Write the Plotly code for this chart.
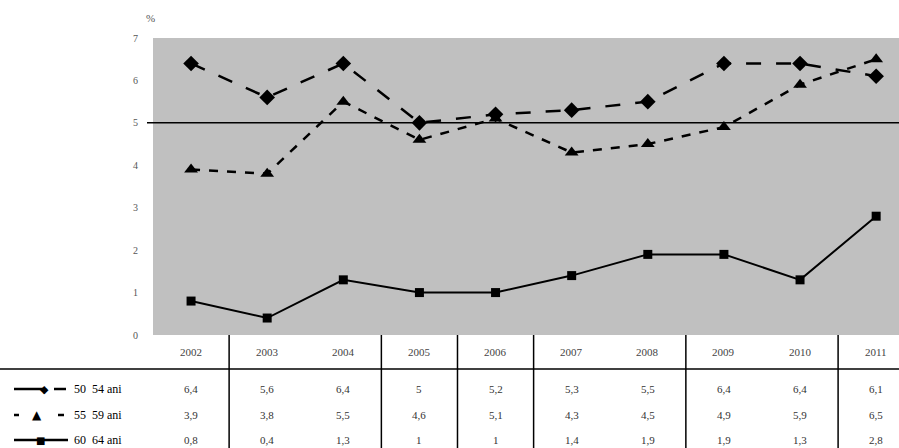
import plotly.graph_objects as go

years = ["2002", "2003", "2004", "2005", "2006", "2007", "2008", "2009", "2010", "2011"]
series_names = ["50  54 ani", "55  59 ani", "60  64 ani"]
s50_54 = [6.4, 5.6, 6.4, 5.0, 5.2, 5.3, 5.5, 6.4, 6.4, 6.1]
s55_59 = [3.9, 3.8, 5.5, 4.6, 5.1, 4.3, 4.5, 4.9, 5.9, 6.5]
s60_64 = [0.8, 0.4, 1.3, 1.0, 1.0, 1.4, 1.9, 1.9, 1.3, 2.8]
y_ticks = [0, 1, 2, 3, 4, 5, 6, 7]
ref_level = 5

W, H = 899, 448
L, R, T, B = 153, 0, 38, 113
PW, PH = W - L - R, H - T - B

def px_x(p):
    return (p - L) / PW

def px_y(p):
    return (H - B - p) / PH

fig = go.Figure()
styles = [
    dict(dash="longdash", width=2.5, symbol="diamond", size=12),
    dict(dash="dash", width=2.5, symbol="triangle-up", size=12),
    dict(dash="solid", width=2, symbol="square", size=9),
]
for name, vals, st in zip(series_names, [s50_54, s55_59, s60_64], styles):
    fig.add_trace(go.Scatter(
        x=years, y=vals, name=name, mode="lines+markers",
        line=dict(color="black", width=st["width"], dash=st["dash"]),
        marker=dict(color="black", symbol=st["symbol"], size=st["size"]),
        cliponaxis=False, showlegend=False))

shapes = []
# reference line at 5
shapes.append(dict(type="line", xref="paper", yref="y", x0=px_x(147), x1=1, y0=ref_level, y1=ref_level,
                   line=dict(color="black", width=1.5)))
# table horizontal line
shapes.append(dict(type="line", xref="paper", yref="paper", x0=px_x(0), x1=1, y0=px_y(369), y1=px_y(369),
                   line=dict(color="black", width=1.5)))
# table vertical separators (as visible in reference)
for b in [0.5, 2.5, 3.5, 4.5, 6.5, 8.5]:
    shapes.append(dict(type="line", xref="x", yref="paper", x0=b, x1=b, y0=0, y1=px_y(448),
                       line=dict(color="black", width=1.5)))

annotations = []
# percent label
annotations.append(dict(text="%", xref="paper", yref="paper", x=px_x(150), y=px_y(18),
                        showarrow=False, font=dict(family="Liberation Serif", size=11, color="#555"),
                        xanchor="center", yanchor="middle"))
# year header
for i, yr in enumerate(years):
    annotations.append(dict(text=yr, xref="x", yref="paper", x=i, y=px_y(352), showarrow=False,
                            font=dict(family="Liberation Serif", size=11, color="#444"),
                            xanchor="center", yanchor="middle"))
row_y = [389, 415, 440]
for vals, ry in zip([s50_54, s55_59, s60_64], row_y):
    for i, v in enumerate(vals):
        t = ("%g" % v).replace(".", ",")
        annotations.append(dict(text=t, xref="x", yref="paper", x=i, y=px_y(ry), showarrow=False,
                                font=dict(family="Liberation Serif", size=11, color="#333"),
                                xanchor="center", yanchor="middle"))
# legend rows in table
for name, ry in zip(series_names, row_y):
    annotations.append(dict(text=name, xref="paper", yref="paper", x=px_x(72), y=px_y(ry), showarrow=False,
                            font=dict(family="Liberation Serif", size=12, color="black"),
                            xanchor="left", yanchor="middle"))
# legend samples
shapes.append(dict(type="line", xref="paper", yref="paper", x0=px_x(14), x1=px_x(44),
                   y0=px_y(row_y[0]), y1=px_y(row_y[0]), line=dict(color="black", width=2.5)))
shapes.append(dict(type="line", xref="paper", yref="paper", x0=px_x(54), x1=px_x(66),
                   y0=px_y(row_y[0]), y1=px_y(row_y[0]), line=dict(color="black", width=2.5)))
for a, b in [(14, 19), (58, 64)]:
    shapes.append(dict(type="line", xref="paper", yref="paper", x0=px_x(a), x1=px_x(b),
                       y0=px_y(row_y[1]), y1=px_y(row_y[1]), line=dict(color="black", width=2.5)))
shapes.append(dict(type="line", xref="paper", yref="paper", x0=px_x(14), x1=px_x(68),
                   y0=px_y(row_y[2]), y1=px_y(row_y[2]), line=dict(color="black", width=2.5)))
for glyph, gx, ry, sz in [("◆", 44, row_y[0], 11), ("▲", 37, row_y[1], 12), ("■", 40, row_y[2], 10)]:
    annotations.append(dict(text=glyph, xref="paper", yref="paper", x=px_x(gx), y=px_y(ry), showarrow=False,
                            font=dict(family="DejaVu Sans", size=sz, color="black"),
                            xanchor="center", yanchor="middle"))

fig.update_layout(
    width=W, height=H, margin=dict(l=L, r=R, t=T, b=B, pad=0),
    paper_bgcolor="white", plot_bgcolor="#c0c0c0",
    xaxis=dict(type="category", range=[-0.5, 9.3], showticklabels=False, showgrid=False,
               zeroline=False, showline=False, ticks=""),
    yaxis=dict(range=[0, 7], tickvals=y_ticks, showgrid=False, zeroline=False, showline=False,
               ticks="", ticklabelstandoff=14,
               tickfont=dict(family="Liberation Serif", size=10, color="#555")),
    shapes=shapes, annotations=annotations,
)
fig.write_html("out.html", config={"displayModeBar": False},
               post_script="document.body.style.margin='0px';document.body.style.overflow='hidden';")
